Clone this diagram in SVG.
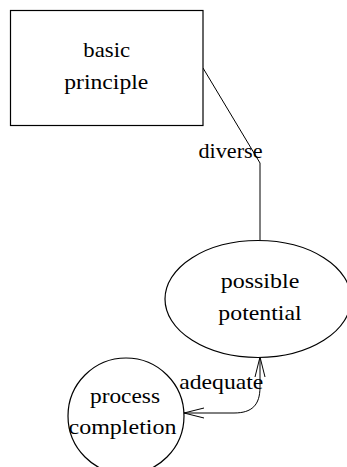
<svg xmlns="http://www.w3.org/2000/svg" width="347" height="467" viewBox="0 0 347 467">
<style>
.n{fill:#fff;stroke:#000;stroke-width:1.2}
.e{fill:none;stroke:#000;stroke-width:1}
</style>
<defs>
<marker id="ah" viewBox="0 0 20 12" refX="0" refY="6" markerWidth="20" markerHeight="12" markerUnits="userSpaceOnUse" orient="auto">
<path d="M20,1 L0,6 L20,11" fill="none" stroke="#000" stroke-width="1"/>
</marker>
<marker id="ah2" viewBox="0 0 20 12" refX="20" refY="6" markerWidth="20" markerHeight="12" markerUnits="userSpaceOnUse" orient="auto">
<path d="M0,1 L20,6 L0,11" fill="none" stroke="#000" stroke-width="1"/>
</marker>
</defs>
<rect width="347" height="467" fill="#fff"/>
<g id="connectors">
<path class="e" d="M203,68 L260,163 L260,240"/>
<path class="e" d="M184,413 L234,413 C252,413 260,405 260,387 L260,357" marker-start="url(#ah)" marker-end="url(#ah2)"/>
</g>
<g font-family="'Liberation Serif', 'Times New Roman', serif" font-size="22" text-anchor="middle" fill="#000">
<text x="230.5" y="157.5" textLength="64" lengthAdjust="spacingAndGlyphs">diverse</text>
<text x="221.3" y="389" textLength="84" lengthAdjust="spacingAndGlyphs">adequate</text>
</g>
<g id="basic-principle" font-family="'Liberation Serif', 'Times New Roman', serif" font-size="22" text-anchor="middle">
<rect class="n" x="10.5" y="10.5" width="192.5" height="115"/>
<text x="106.7" y="57" textLength="46.7" lengthAdjust="spacingAndGlyphs">basic</text>
<text x="106.3" y="88.5" textLength="84" lengthAdjust="spacingAndGlyphs">principle</text>
</g>
<g id="possible-potential" font-family="'Liberation Serif', 'Times New Roman', serif" font-size="22" text-anchor="middle">
<ellipse class="n" cx="258" cy="299" rx="93" ry="58.5"/>
<text x="260" y="288.3" textLength="78.6" lengthAdjust="spacingAndGlyphs">possible</text>
<text x="260" y="320" textLength="83.3" lengthAdjust="spacingAndGlyphs">potential</text>
</g>
<g id="process-completion" font-family="'Liberation Serif', 'Times New Roman', serif" font-size="22" text-anchor="middle">
<circle class="n" cx="126" cy="416" r="58"/>
<text x="125" y="403" textLength="70" lengthAdjust="spacingAndGlyphs">process</text>
<text x="122.5" y="433.5" textLength="108" lengthAdjust="spacingAndGlyphs">completion</text>
</g>
</svg>
